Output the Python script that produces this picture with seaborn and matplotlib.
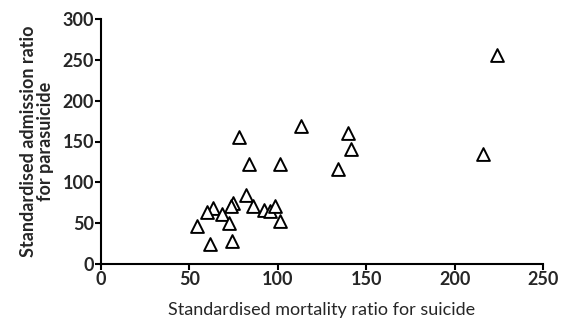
import matplotlib
matplotlib.use("Agg")
import matplotlib.pyplot as plt
import seaborn as sns
import pandas as pd

smr_suicide = [224.1, 216.0, 113.4, 139.7, 141.4, 134.2, 78.2, 83.7, 101.4, 81.9,
               74.9, 73.7, 85.8, 63.4, 59.7, 68.5, 92.4, 95.5, 98.2, 72.4,
               101.2, 54.1, 61.7, 74.1]
sar_parasuicide = [256.2, 134.9, 168.4, 160.2, 141.0, 116.1, 156.1, 122.2, 122.6, 84.6,
                   75.2, 71.5, 71.5, 69.1, 63.8, 60.9, 66.2, 65.0, 71.5, 50.7,
                   53.1, 47.0, 24.9, 27.8]
x_ticks = [0, 50, 100, 150, 200, 250]
y_ticks = [0, 50, 100, 150, 200, 250, 300]

df = pd.DataFrame({"smr": smr_suicide, "sar": sar_parasuicide})

sns.set_theme(style="ticks")
plt.rcParams['font.family'] = ['Lato', 'DejaVu Sans']

fig = plt.figure(figsize=(5.69, 3.29), dpi=100)
ax = fig.add_axes([101/569, 1-264/329, 442/569, 245/329])

sns.scatterplot(data=df, x="smr", y="sar", marker="^", s=85,
                facecolor="white", edgecolor="black", linewidth=1.4, ax=ax, zorder=3)

ax.set_xlim(0, 250)
ax.set_ylim(0, 300)
ax.set_xticks(x_ticks)
ax.set_yticks(y_ticks)
ax.set_xticklabels([str(t) for t in x_ticks], fontsize=13, fontweight="bold")
ax.set_yticklabels([str(t) for t in y_ticks], fontsize=13, fontweight="bold")
ax.tick_params(axis="both", direction="out", length=4, width=1.5, color="black", pad=1)
for s in ["left", "bottom"]:
    ax.spines[s].set_linewidth(1.5)
    ax.spines[s].set_color("black")
for s in ["top", "right"]:
    ax.spines[s].set_visible(False)

ax.set_xlabel("Standardised mortality ratio for suicide", fontsize=13, labelpad=10)
ax.set_ylabel("Standardised admission ratio\nfor parasuicide", fontsize=13,
              fontweight="bold", labelpad=6, linespacing=1.0)

fig.savefig("out.png", dpi=100)
